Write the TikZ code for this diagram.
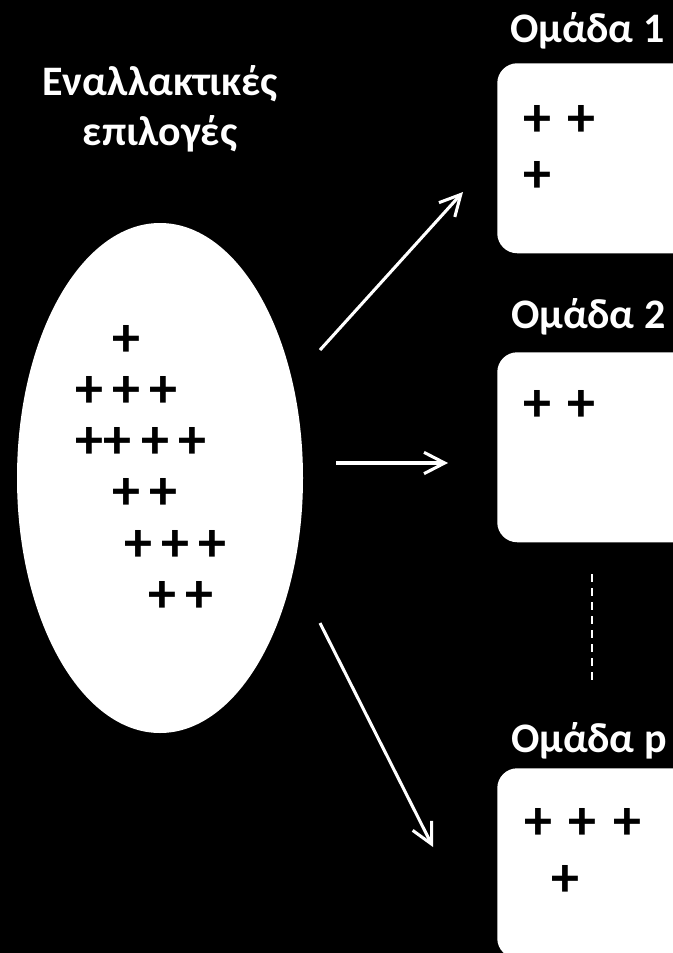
\documentclass[tikz,border=0pt]{standalone}
\usepackage{fontspec}
\setmainfont{Carlito}
\usetikzlibrary{arrows.meta}
\usetikzlibrary{shapes.geometric}
\tikzset{
  heading/.style={text=white, font=\bfseries\fontsize{31.5}{37}\selectfont, inner sep=0pt, anchor=base, align=center},
  grouplabel/.style={text=white, font=\bfseries\fontsize{31.5}{37}\selectfont, inner sep=0pt, anchor=base west},
  pluses/.style={font=\bfseries\fontsize{42}{44}\selectfont, execute at begin node={\spaceskip=7pt\relax}, inner sep=0pt, anchor=base west},
  boxpluses/.style={font=\bfseries\fontsize{42}{44}\selectfont, execute at begin node={\spaceskip=12.5pt\relax}, inner sep=0pt, anchor=base west},
  groupbox/.style={fill=white, rounded corners=15pt, minimum width=150pt, minimum height=142.5pt, anchor=north west, inner sep=0pt},
  flow/.style={white, line width=2.3pt, -{Straight Barb[length=15.5pt,width=16pt]}}
}
\begin{document}
\begin{tikzpicture}[x=0.75pt, y=-0.75pt]
    \fill[black] (0,0) rectangle (673,953);
    \useasboundingbox (0,0) rectangle (673,953);
    \clip (0,0) rectangle (673,953);

    % the set of alternatives
    \node[heading] (title) at (160,145) {Εναλλακτικές\\επιλογές};
    \node[shape=ellipse, fill=white, minimum width=214.5pt, minimum height=382.5pt, inner sep=0pt] (alts) at (160,478) {};
    \node[pluses] (a1) at (112,356) {+};
    \node[pluses] (a2) at (75,407) {+ + +};
    \node[pluses] (a3) at (75,458) {++ + +};
    \node[pluses] (a4) at (112,509) {+ +};
    \node[pluses] (a5) at (124,561) {+ + +};
    \node[pluses] (a6) at (148,612) {+ +};

    % the groups
    \node[grouplabel] (lab1) at (510,42) {Ομάδα 1};
    \node[groupbox] (g1) at (497,63) {};
    \node[boxpluses] (g1a) at (523,136) {+ +};
    \node[boxpluses] (g1b) at (523,192) {+};

    \node[grouplabel] (lab2) at (511,328) {Ομάδα 2};
    \node[groupbox] (g2) at (497,352) {};
    \node[boxpluses] (g2a) at (523,421) {+ +};

    \node[grouplabel] (labp) at (511,752) {Ομάδα p};
    \node[groupbox] (gp) at (497,768) {};
    \node[boxpluses] (gpa) at (524,839) {+ + +};
    \node[boxpluses] (gpb) at (551,896) {+};

    % arrow ends
    \coordinate (s1) at (320,350);
    \coordinate (e1) at (463,192);
    \coordinate (s2) at (336,463);
    \coordinate (e2) at (448,463);
    \coordinate (s3) at (320,623);
    \coordinate (e3) at (433,847);
    \coordinate (d1) at (592,574);
    \coordinate (d2) at (592,681);

    \draw[flow] (s1) -- (e1);
    \draw[flow] (s2) -- (e2);
    \draw[flow] (s3) -- (e3);
    \draw[white, line width=1.5pt, dash pattern=on 6pt off 4.5pt] (d1) -- (d2);

\end{tikzpicture}
\end{document}
